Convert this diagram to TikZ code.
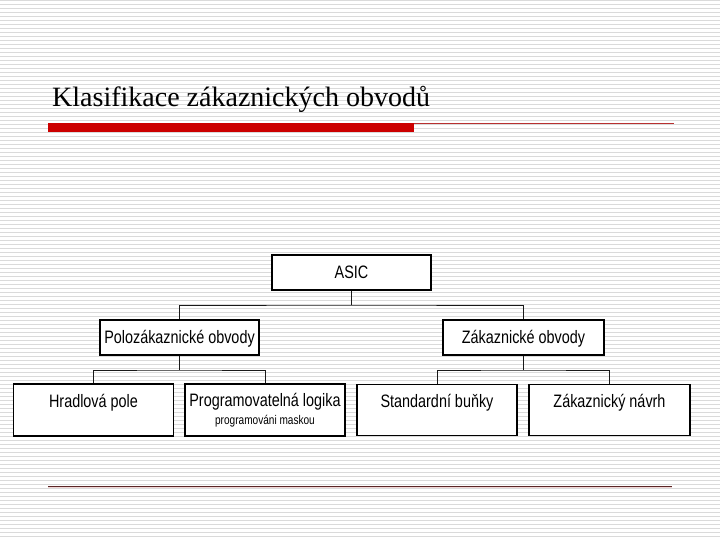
\documentclass[tikz,border=0pt]{standalone}
\usepackage{fontspec}
\setmainfont{Liberation Serif}
\newfontfamily\boxfont[FakeStretch=0.8]{Liberation Sans}
\definecolor{barred}{HTML}{CC0000}
\definecolor{thinred}{HTML}{B83030}
\definecolor{footline}{HTML}{5A2626}
\definecolor{footshadow}{HTML}{F2D6D6}
\definecolor{stripe}{HTML}{DADADA}
\tikzset{
  box/.style={draw=black, line width=1.1pt, fill=white, inner sep=0pt},
  topbox/.style={box, minimum width=159pt, minimum height=35pt},
  lowbox/.style={box, minimum width=160pt, minimum height=52pt},
  conn/.style={draw=black!90, line width=1pt},
  lbl/.style={font=\boxfont\fontsize{18}{20}\selectfont, anchor=base, inner sep=0pt},
  sublbl/.style={font=\boxfont\fontsize{12.6}{14}\selectfont, anchor=base, inner sep=0pt},
}
\begin{document}
\begin{tikzpicture}[x=1pt,y=-1pt]
\useasboundingbox (0,0) rectangle (720,540);
\fill[white] (0,0) rectangle (720,540);
\foreach \i in {0,...,134} {\draw[stripe, line width=1pt] (0,{4*\i+0.7}) -- (720,{4*\i+0.7});}
% title
\node[anchor=base west, inner sep=0pt, font=\fontsize{28}{30}\selectfont] (title) at (52,106.5) {Klasifikace zákaznických obvodů};
\fill[barred] (48,123) rectangle (414,132);
\draw[thinred, line width=1pt] (414,123.5) -- (674,123.5);
% footer line
\draw[footshadow, line width=1.5pt] (48,487.6) -- (672,487.6);
\draw[footline, line width=1pt] (48,486) -- (672,486);
% boxes
\node[topbox] (asic) at (351.5,272.5) {};
\node[lbl] at ([yshift=-6.3pt]asic.center) {ASIC};
\node[topbox] (polo) at (179.5,337.5) {};
\node[lbl] at ([yshift=-6.3pt]polo.center) {Polozákaznické obvody};
\node[topbox, minimum width=161pt] (zak) at (523.5,337.5) {};
\node[lbl] at ([yshift=-6.3pt]zak.center) {Zákaznické obvody};
\node[lowbox] (hrad) at (93.5,410) {};
\node[lbl] at ([yshift=-24pt]hrad.north) {Hradlová pole};
\node[lowbox] (prog) at (265,410) {};
\node[lbl] at ([yshift=-23.5pt]prog.north) {Programovatelná logika};
\node[sublbl] at ([yshift=-41pt]prog.north) {programováni maskou};
\node[lowbox, minimum height=51pt] (std) at (437,410) {};
\node[lbl] at ([yshift=-24pt]std.north) {Standardní buňky};
\node[lowbox, minimum height=51pt, minimum width=161pt] (zn) at (609.5,410) {};
\node[lbl] at ([yshift=-24pt]zn.north) {Zákaznický návrh};
% connectors
\coordinate (j1) at (351.5,305);
\coordinate (j2) at (179.5,370);
\coordinate (j3) at (523.5,370);
\draw[conn] (asic.south) -- (j1);
\draw[conn] (polo.north) |- (j1) -| (zak.north);
\draw[conn] (polo.south) -- (j2);
\draw[conn] (hrad.north) |- (j2) -| (prog.north);
\draw[conn] (zak.south) -- (j3);
\draw[conn] (std.north) |- (j3) -| (zn.north);
\end{tikzpicture}
\end{document}
